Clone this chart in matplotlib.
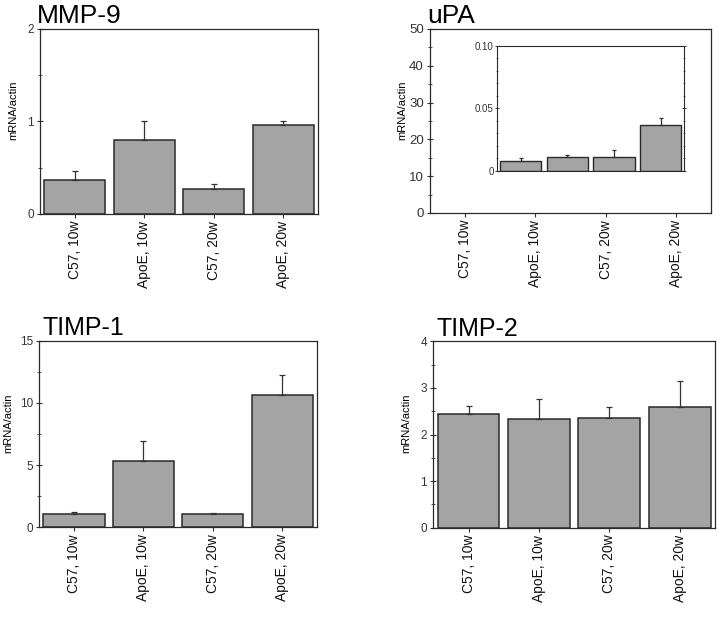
import numpy as np
import matplotlib
matplotlib.use('Agg')
import matplotlib.pyplot as plt
from matplotlib.ticker import MultipleLocator, AutoMinorLocator

plt.rcParams['font.family'] = ['Liberation Sans', 'DejaVu Sans']

# Grupos (eje x comun a los cuatro paneles)
groups = ['C57, 10w', 'ApoE, 10w', 'C57, 20w', 'ApoE, 20w']

# Valores medios y error (solo hacia arriba)
mmp9 = [0.37, 0.80, 0.27, 0.96]
mmp9_err = [0.095, 0.20, 0.05, 0.05]

upa = [0.0075, 0.011, 0.0112, 0.0368]
upa_err = [0.003, 0.0016, 0.0056, 0.0054]

timp1 = [1.07, 5.35, 1.07, 10.66]
timp1_err = [0.12, 1.55, 0.10, 1.58]

timp2 = [2.44, 2.33, 2.35, 2.59]
timp2_err = [0.17, 0.43, 0.24, 0.56]

bar_color = '#a4a4a4'
edge_color = '#2a2a2a'
x = np.arange(len(groups))


def style_axis(ax, ymax, ystep, yfont=8.5):
    ax.set_xlim(-0.5, len(groups) - 0.5)
    ax.set_ylim(0, ymax)
    ax.yaxis.set_major_locator(MultipleLocator(ystep))
    ax.yaxis.set_minor_locator(AutoMinorLocator(2))
    ax.set_yticklabels([f'{v:g}' for v in ax.get_yticks()])
    ax.tick_params(axis='y', which='major', direction='inout', length=5, width=0.8,
                   labelsize=yfont, pad=2, colors='#333333')
    ax.tick_params(axis='y', which='minor', direction='inout', length=3, width=0.6,
                   colors='#333333')
    ax.set_xticks(x)
    ax.set_xticklabels(groups, rotation=90, fontsize=10, color='#111111')
    ax.tick_params(axis='x', direction='out', length=3, width=0.8, pad=2,
                   colors='#333333', labelcolor='#111111')
    for s in ax.spines.values():
        s.set_color('#2a2a2a')
        s.set_linewidth(0.9)
    ax.set_ylabel('mRNA/actin', fontsize=8)
    ax.yaxis.set_label_coords(-0.08, 0.56)


def draw_bars(ax, vals, errs, width=0.88, lw=1.1, cap=2):
    ax.bar(x, vals, width=width, color=bar_color, edgecolor=edge_color,
           linewidth=lw, zorder=2)
    ax.errorbar(x, vals, yerr=[np.zeros(len(vals)), errs], fmt='none',
                ecolor='#333333', elinewidth=0.9, capsize=cap, capthick=0.9,
                zorder=3)


fig = plt.figure(figsize=(7.2, 6.17), dpi=100)

# MMP-9
ax1 = fig.add_axes([0.0556, 0.6532, 0.3861, 0.2998])
draw_bars(ax1, mmp9, mmp9_err)
style_axis(ax1, 2, 1)
ax1.set_title('MMP-9', loc='left', fontsize=19, pad=4, x=-0.01)

# uPA (eje principal vacio + recuadro)
ax2 = fig.add_axes([0.5972, 0.6548, 0.3903, 0.2982])
style_axis(ax2, 50, 10, yfont=9.5)
ax2.set_title('uPA', loc='left', fontsize=19, pad=4, x=-0.01)

ins = fig.add_axes([0.6907, 0.7233, 0.2593, 0.2026])
draw_bars(ins, upa, upa_err, lw=1.0, cap=1.2)
ins.set_xlim(-0.5, len(groups) - 0.5)
ins.set_ylim(0, 0.10)
ins.set_yticks([0, 0.05, 0.10])
ins.set_yticklabels(['0', '0.05', '0.10'])
ins.yaxis.set_minor_locator(MultipleLocator(0.01))
ins.tick_params(axis='y', which='both', direction='inout', right=True,
                labelsize=7, pad=1, colors='#333333')
ins.tick_params(axis='y', which='major', length=3, width=0.7)
ins.tick_params(axis='y', which='minor', length=2, width=0.5)
ins.set_xticks(x)
ins.set_xticklabels([])
ins.tick_params(axis='x', direction='in', length=2, width=0.5, colors='#333333')
for s in ins.spines.values():
    s.set_color('#2a2a2a')
    s.set_linewidth(0.8)

# TIMP-1
ax3 = fig.add_axes([0.0546, 0.1454, 0.3853, 0.3024])
draw_bars(ax3, timp1, timp1_err)
style_axis(ax3, 15, 5)
ax3.yaxis.set_label_coords(-0.095, 0.56)
ax3.set_title('TIMP-1', loc='left', fontsize=18, pad=4, x=0.01)

# TIMP-2
ax4 = fig.add_axes([0.6018, 0.1447, 0.3912, 0.3021])
draw_bars(ax4, timp2, timp2_err)
style_axis(ax4, 4, 1)
ax4.yaxis.set_label_coords(-0.079, 0.56)
ax4.set_title('TIMP-2', loc='left', fontsize=18, pad=4, x=0.01)

fig.savefig('out.png', dpi=100, facecolor='white')
